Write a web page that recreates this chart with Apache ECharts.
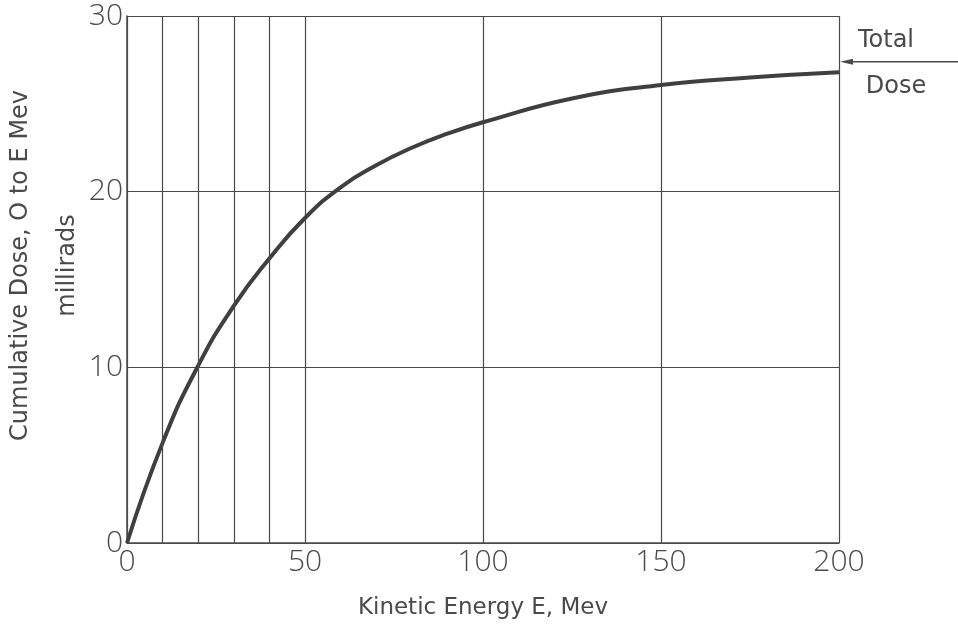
<!DOCTYPE html>
<html>
<head>
<meta charset="utf-8">
<script src="https://cdn.jsdelivr.net/npm/echarts@6/dist/echarts.min.js"></script>
<style>html,body{margin:0;padding:0;background:#fff;}#c{width:958px;height:625px;}</style>
</head>
<body>
<div id="c"></div>
<script>
// Data
const energy = [0, 10, 20, 30, 40, 50, 60, 70, 80, 90, 100, 125, 150, 175, 200];
const dose   = [0, 5.7, 10.1, 13.5, 16.2, 18.5, 20.25, 21.5, 22.5, 23.3, 23.95, 25.3, 26.07, 26.5, 26.8];
const xTicks = [0, 50, 100, 150, 200];
const yTicks = [0, 10, 20, 30];
const extraGridX = [10, 20, 30, 40];
const totalDose = 27.4;
const totalLabel = ['Total', 'Dose'];
const yTitle = 'Cumulative Dose, O to E Mev';
const yUnit = 'millirads';
const xTitle = 'Kinetic Energy E, Mev';

const ink = '#4a4a4a';
const tickFont = '"Open Sans", "DejaVu Sans", sans-serif';
const textFont = '"DejaVu Sans", sans-serif';
const chart = echarts.init(document.getElementById('c'));
chart.setOption({
  animation: false,
  backgroundColor: '#fff',
  grid: { left: 127, right: 119, top: 16, bottom: 82, containLabel: false },
  xAxis: {
    type: 'value', min: 0, max: 200, interval: 50,
    name: xTitle, nameLocation: 'middle', nameGap: 54,
    nameTextStyle: { color: ink, fontSize: 23, fontFamily: textFont },
    axisLine: { show: true, lineStyle: { color: ink, width: 1.5 } },
    axisTick: { show: false },
    axisLabel: { color: ink, fontSize: 30, fontWeight: 300, fontFamily: tickFont, margin: 4,
      formatter: v => xTicks.includes(v) ? String(v) : '' },
    splitLine: { show: true, lineStyle: { color: ink, width: 1.2 } }
  },
  yAxis: {
    type: 'value', min: 0, max: 30, interval: 10,
    axisLine: { show: true, lineStyle: { color: ink, width: 1.5 } },
    axisTick: { show: false },
    axisLabel: { color: ink, fontSize: 30, fontWeight: 300, fontFamily: tickFont, margin: 4,
      formatter: v => yTicks.includes(v) ? String(v) : '' },
    splitLine: { show: true, lineStyle: { color: ink, width: 1.2 } }
  },
  series: [{
    type: 'line',
    data: energy.map((e, i) => [e, dose[i]]),
    smooth: 0.5,
    showSymbol: false,
    lineStyle: { color: '#3f3f3f', width: 4 },
    markLine: {
      silent: true, symbol: 'none', label: { show: false },
      lineStyle: { color: ink, width: 1.2, type: 'solid' },
      data: extraGridX.map(x => ({ xAxis: x }))
    }
  }]
});

// Y-axis captions and the "Total Dose" arrow, placed through the chart's scales
const titlePt = chart.convertToPixel({ gridIndex: 0 }, [0, 15.8]);
const tip = chart.convertToPixel({ gridIndex: 0 }, [200, totalDose]);
chart.setOption({
  graphic: [
    { type: 'text', x: 21, y: titlePt[1], rotation: Math.PI / 2,
      style: { text: yTitle, fill: ink, fontSize: 24, fontFamily: textFont, align: 'center', verticalAlign: 'middle' } },
    { type: 'text', x: 68, y: titlePt[1], rotation: Math.PI / 2,
      style: { text: yUnit, fill: ink, fontSize: 24, fontFamily: textFont, align: 'center', verticalAlign: 'middle' } },
    { type: 'line', shape: { x1: tip[0] + 8, y1: tip[1], x2: 958, y2: tip[1] },
      style: { stroke: ink, lineWidth: 1.5 } },
    { type: 'polygon', shape: { points: [[tip[0] + 1, tip[1]], [tip[0] + 14, tip[1] - 3], [tip[0] + 14, tip[1] + 3]] },
      style: { fill: ink } },
    { type: 'text', x: 886, y: tip[1] - 21,
      style: { text: totalLabel[0], fill: ink, fontSize: 24, fontFamily: textFont, align: 'center', verticalAlign: 'middle' } },
    { type: 'text', x: 896, y: tip[1] + 25,
      style: { text: totalLabel[1], fill: ink, fontSize: 24, fontFamily: textFont, align: 'center', verticalAlign: 'middle' } }
  ]
});
</script>
</body>
</html>
